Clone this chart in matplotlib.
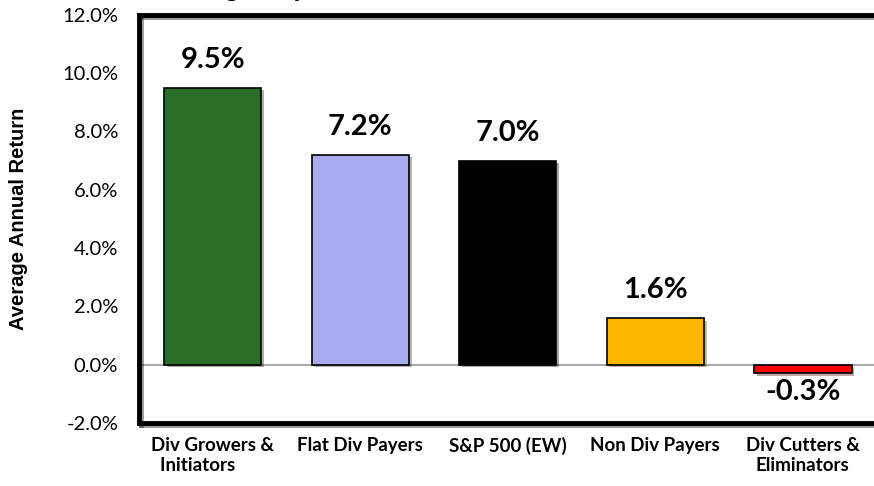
import matplotlib.pyplot as plt
import matplotlib.patheffects as pe
import numpy as np

categories = ["Div Growers &\n  Initiators", "Flat Div Payers", "S&P 500 (EW)",
              "Non Div Payers", "Div Cutters &\nEliminators"]
returns = [9.5, 7.2, 7.0, 1.6, -0.3]
value_labels = ["9.5%", "7.2%", "7.0%", "1.6%", "-0.3%"]
bar_colors = ["#2a6f27", "#aaaaee", "#000000", "#ffb900", "#ff0000"]
yticks = [-2, 0, 2, 4, 6, 8, 10, 12]

plt.rcParams['font.family'] = ['Lato', 'DejaVu Sans']

fig = plt.figure(figsize=(8.74, 4.86), dpi=100)
ax = fig.add_axes([0.159, 0.13, 0.844, 0.8395])

x = np.arange(len(categories))
shadow = [pe.SimplePatchShadow(offset=(2, -2), alpha=0.35), pe.Normal()]
bars = ax.bar(x, returns, width=0.66, color=bar_colors, edgecolor="black",
              linewidth=1.2, zorder=3)
for b in bars:
    b.set_path_effects(shadow)

ax.axhline(0, color="#999999", linewidth=1.2, zorder=2)

for xi, v, lab in zip(x, returns, value_labels):
    if v >= 0:
        ax.text(xi, v + 0.5, lab, ha="center", va="bottom", fontsize=21,
                fontweight="bold")
    else:
        ax.text(xi, v - 0.2, lab, ha="center", va="top", fontsize=21,
                fontweight="bold")

ax.set_xlim(-0.5, len(categories) - 0.5)
ax.set_ylim(-2, 12)
ax.set_yticks(yticks)
ax.set_yticklabels([f"{t:.1f}%" for t in yticks], fontsize=14.5)
ax.set_xticks(x)
ax.set_xticklabels(categories, fontsize=13.5, fontweight="bold")
ax.get_xticklabels()[0].set_multialignment("left")
ax.tick_params(axis="both", length=0, pad=10)
ax.tick_params(axis="y", pad=15)
ax.set_ylabel("Average Annual Return", fontsize=14.5, fontweight="bold",
              family="Liberation Sans")
ax.yaxis.set_label_coords(-0.150, 0.5)

for s in ax.spines.values():
    s.set_linewidth(3.5)
    s.set_color("black")
    s.set_path_effects([pe.SimpleLineShadow(offset=(1.5, -1.5), alpha=0.4), pe.Normal()])

# title sits mostly above the canvas, as in the source image
fig.text(0.56, 1.0 + 4.0 / 486, "Large Cap Stock Returns, 1972 - 2013, Annual, %",
         ha="center", va="baseline", fontsize=20, fontweight="bold")

fig.savefig("out.png", dpi=100)
